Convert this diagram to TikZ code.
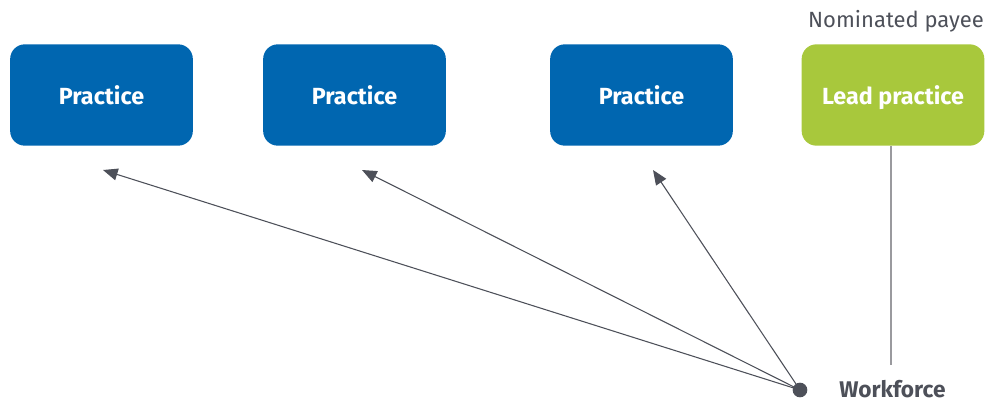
\documentclass[tikz,border=0pt]{standalone}
\usepackage{fontspec}
\setmainfont{Fira Sans}
\usetikzlibrary{arrows.meta}
\definecolor{pblue}{HTML}{0066B0}
\definecolor{pgreen}{HTML}{A8C83C}
\definecolor{dgray}{HTML}{4D5059}
\definecolor{lgray}{HTML}{9A9A9E}
\begin{document}
\begin{tikzpicture}[x=0.75pt,y=-0.75pt,
  box/.style={draw=none,rounded corners=11pt,minimum width=137pt,minimum height=76pt,inner sep=0pt,text depth=0pt,text=white,font=\fontsize{17.5}{20}\selectfont\bfseries},
  arr/.style={draw=dgray,line width=0.8pt,-{Triangle[length=11pt,width=9pt]}}]
\useasboundingbox (0,0) rectangle (993,403);
\node[box,fill=pblue] (p1) at (101.5,95) {Practice};
\node[box,fill=pblue] (p2) at (354.5,95) {Practice};
\node[box,fill=pblue] (p3) at (641.5,95) {Practice};
\node[box,fill=pgreen] (lp) at (893,95) {Lead practice};
\node[text=dgray,font=\fontsize{16.5}{19}\selectfont,anchor=base] (nom) at (896,28) {Nominated payee};
\node[circle,fill=dgray,inner sep=0pt,minimum size=11pt] (dot) at (800,390) {};
\node[text=dgray,font=\fontsize{17}{19}\selectfont\bfseries,anchor=base west,inner sep=0pt] (wf) at (839,397) {Workforce};
\coordinate (t1) at (103,170);
\coordinate (t2) at (362,170);
\coordinate (t3) at (653,170);
\coordinate (le) at (891,365);
\draw[arr] (dot.center) -- (t1);
\draw[arr] (dot.center) -- (t2);
\draw[arr] (dot.center) -- (t3);
\draw[lgray,line width=1.2pt] (lp.south -| le) -- (le);
\end{tikzpicture}
\end{document}
